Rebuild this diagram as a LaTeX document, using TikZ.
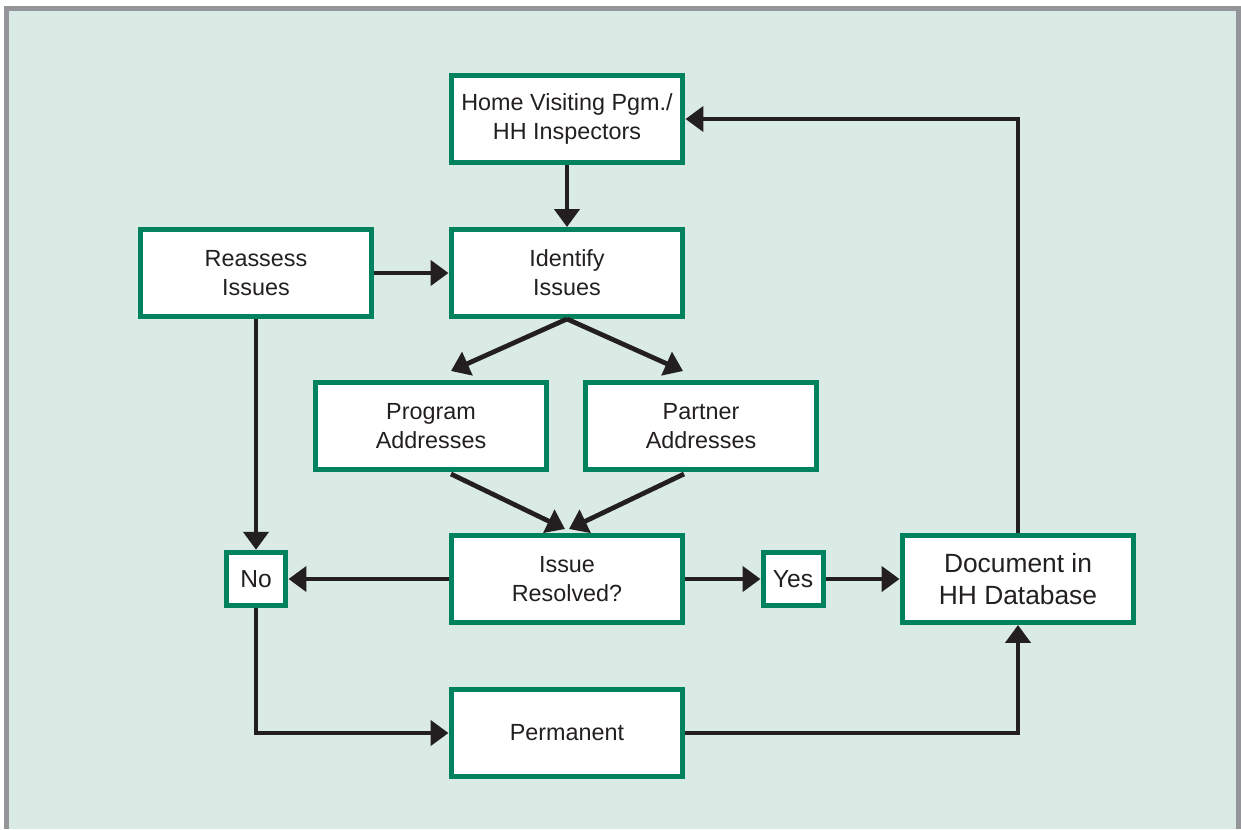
\documentclass[tikz,border=0pt]{standalone}
\usepackage{fontspec}
\setmainfont{Liberation Sans}
\usetikzlibrary{arrows.meta,calc}
\definecolor{hhgreen}{HTML}{00825F}
\definecolor{bgmint}{HTML}{DAEAE4}
\definecolor{framegray}{HTML}{939598}
\definecolor{inkblack}{HTML}{231F20}
\begin{document}
\begin{tikzpicture}[x=0.02cm,y=-0.02cm,
	box/.style={draw=hhgreen,line width=0.1cm,fill=white,text=inkblack,minimum width=4.64cm,minimum height=1.74cm,align=center,inner sep=0pt,font=\fontsize{13.3}{16.5}\selectfont},
	smallbox/.style={box,minimum width=1.2cm,minimum height=1.07cm,font=\fontsize{14}{16}\selectfont},
	arr/.style={draw=inkblack,line width=0.095cm,-{Triangle[length=0.36cm,width=0.5cm]}}]
		\useasboundingbox (0,0) rectangle (1241,829);
		\fill[framegray] (4,6) rectangle (1241,829);
		\fill[bgmint] (9,11) rectangle (1236,829);
		% boxes
		\node[box] (hv) at (567,119) {Home Visiting Pgm./\\HH Inspectors};
		\node[box] (ident) at (567,273) {Identify\\Issues};
		\node[box] (reas) at (256,273) {Reassess\\Issues};
		\node[box] (prog) at (431,426) {Program\\Addresses};
		\node[box] (part) at (701,426) {Partner\\Addresses};
		\node[box] (issue) at (567,579) {Issue\\Resolved?};
		\node[smallbox] (no) at (256,579) {No};
		\node[smallbox] (yes) at (793,579) {Yes};
		\node[box,font=\fontsize{15}{18.5}\selectfont] (doc) at (1018,579) {Document in\\HH Database};
		\node[box] (perm) at (567,733) {Permanent};
		% arrows
		\draw[arr] (hv)--(ident);
		\draw[arr] (reas)--(ident);
		\draw[arr] (ident.south)--($(prog.north)+(20,-9)$);
		\draw[arr] (ident.south)--($(part.north)+(-18,-9)$);
		\draw[arr] ($(prog.south)+(20,2)$)--($(issue.north)+(-2,-4)$);
		\draw[arr] ($(part.south)+(-17,2)$)--($(issue.north)+(2,-4)$);
		\draw[arr] (issue)--(no);
		\draw[arr] (reas)--(no);
		\draw[arr] (issue)--(yes);
		\draw[arr] (yes)--(doc);
		\draw[arr] (doc.north)|-(hv.east);
		\draw[arr] (no.south)|-(perm.west);
		\draw[arr] (perm.east)-|(doc.south);
	\end{tikzpicture}
\end{document}
